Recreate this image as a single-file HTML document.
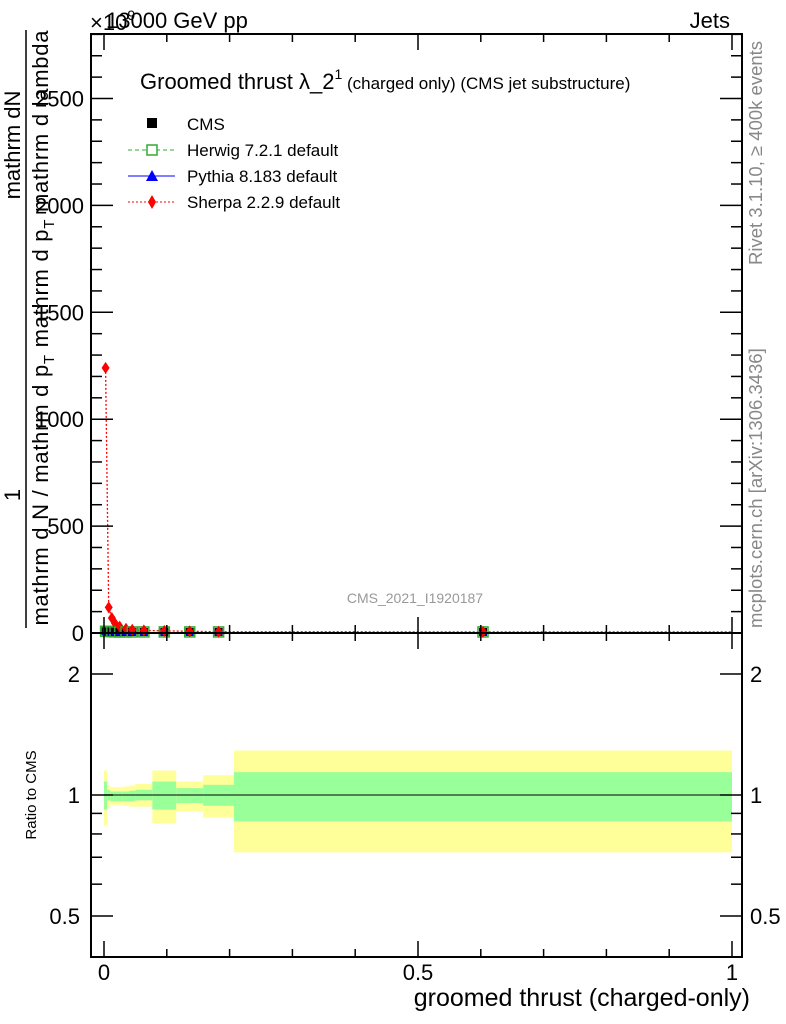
<!DOCTYPE html>
<html><head><meta charset="utf-8"><style>
body{margin:0;background:#fff;}
svg{display:block;font-family:"Liberation Sans",sans-serif;}
</style></head><body>
<svg id="c" width="786" height="1024" xmlns="http://www.w3.org/2000/svg"></svg>
<script>
const edges=[0,0.005,0.01,0.015,0.02,0.03,0.04,0.05,0.077,0.115,0.158,0.207,1];
const cmsVals=[8,6,6,5,5,5,5,5,5,5,5,5];
const herwigVals=[8,7,6,5,5,5,5,5,5,5,5,5];
const pythiaVals=[6,5,5,4,4,4,4,4,4,4,4,4];
const sherpaVals=[1240,120,70,45,30,20,15,12,10,8,6,5];
const statHi=[1.08,1.03,1.02,1.02,1.02,1.02,1.025,1.03,1.08,1.04,1.06,1.14];
const statLo=[0.92,0.97,0.965,0.965,0.965,0.965,0.965,0.97,0.92,0.955,0.94,0.86];
const totHi=[1.15,1.06,1.045,1.045,1.045,1.05,1.055,1.065,1.15,1.08,1.12,1.29];
const totLo=[0.84,0.93,0.945,0.945,0.945,0.94,0.935,0.935,0.85,0.91,0.88,0.72];
const yTicks=[0,500,1000,1500,2000,2500];
const xTicks=[0,0.5,1];
const rTicks=[0.5,1,2];

const NS="http://www.w3.org/2000/svg";
const svg=document.getElementById('c');
function el(t,a,p){const e=document.createElementNS(NS,t);for(const k in a)e.setAttribute(k,a[k]);(p||svg).appendChild(e);return e;}
const L=91,R=742,T=34,M=633,B=957;
const X=v=>104+v*628;
const Y=v=>633-v*0.2138;
const RY=v=>795-Math.log2(v)*121;

const gb=el('g',{});


for(let i=0;i<edges.length-1;i++){
 const x0=X(edges[i]),x1=X(edges[i+1]);
 const ry=el('rect',{x:x0,y:RY(totHi[i]),width:x1-x0,height:RY(totLo[i])-RY(totHi[i]),fill:'#ffff99'},gb);
 
 
 const rg=el('rect',{x:x0,y:RY(statHi[i]),width:x1-x0,height:RY(statLo[i])-RY(statHi[i]),fill:'#99ff99'},gb);
 
 
}
el('line',{x1:L,x2:R,y1:RY(1),y2:RY(1),stroke:'#000','stroke-width':1});

function centers(i){return (edges[i]+edges[i+1])/2;}
let sp='';sherpaVals.forEach((v,i)=>{sp+=(i?'L':'M')+X(centers(i))+','+Y(v);});
sp+='L'+X(1)+','+Y(sherpaVals[sherpaVals.length-1]);
const sl=el('path',{d:sp,fill:'none',stroke:'#f00','stroke-dasharray':'2,2','stroke-width':1.3});


cmsVals.forEach((v,i)=>{
 const cx=X(centers(i));
 const hw=el('rect',{x:cx-5,y:Y(herwigVals[i])-5,width:10,height:10,fill:'none',stroke:'#3a3','stroke-width':1.5});
 
 
 const c=el('rect',{x:cx-4,y:Y(v)-4,width:8,height:8,fill:'#000'});
 
 
 const py=el('path',{d:`M${cx-4},${Y(pythiaVals[i])+3}L${cx+4},${Y(pythiaVals[i])+3}L${cx},${Y(pythiaVals[i])-4}Z`,fill:'#00f'});
 
 
 const sy=Y(sherpaVals[i]);
 const s=el('path',{d:`M${cx},${sy-6}L${cx+4},${sy}L${cx},${sy+6}L${cx-4},${sy}Z`,fill:'#f00'});
 
 
});

for(const [t,b] of [[T,M],[M,B]]){
 const f=el('rect',{x:L,y:t,width:R-L,height:b-t,fill:'none',stroke:'#000','stroke-width':2});
 
 
 for(let v=0;v<=1.0001;v+=0.1){const x=X(v);const maj=Math.abs(v*2-Math.round(v*2))<1e-6;const l=maj?16:8;
  el('line',{x1:x,x2:x,y1:b,y2:b-l,stroke:'#000','stroke-width':1.5});
  el('line',{x1:x,x2:x,y1:t,y2:t+l,stroke:'#000','stroke-width':1.5});}
}
for(let v=0;v<=2800;v+=100){const y=Y(v);if(y<T)break;const l=v%500==0?22:11;
 el('line',{x1:L,x2:L+l,y1:y,y2:y,stroke:'#000','stroke-width':1.5});
 el('line',{x1:R,x2:R-l,y1:y,y2:y,stroke:'#000','stroke-width':1.5});}
yTicks.forEach(v=>{const t=el('text',{x:84,y:Y(v)+8,'text-anchor':'end','font-size':22});t.textContent=v;
 });
[0.5,0.6,0.7,0.8,0.9,1,2].forEach(v=>{const y=RY(v);const l=(v==0.5||v==1||v==2)?22:11;
 el('line',{x1:L,x2:L+l,y1:y,y2:y,stroke:'#000','stroke-width':1.5});
 el('line',{x1:R,x2:R-l,y1:y,y2:y,stroke:'#000','stroke-width':1.5});});
rTicks.forEach(v=>{for(const [x,a] of [[80,'end'],[750,'start']]){const t=el('text',{x:x,y:RY(v)+8,'text-anchor':a,'font-size':22});t.textContent=v;
 }});
xTicks.forEach(v=>{const t=el('text',{x:X(v),y:980,'text-anchor':'middle','font-size':22});t.textContent=v;
 });
</script>
<svg style="position:absolute;left:0;top:0" width="786" height="1024" xmlns="http://www.w3.org/2000/svg" font-family="Liberation Sans, sans-serif">
<text x="90" y="30" font-size="22">×10<tspan font-size="14" dy="-10">9</tspan></text>
<text x="106" y="28" font-size="22">13000 GeV pp</text>
<text x="730" y="28" font-size="22" text-anchor="end">Jets</text>
<text x="140" y="89" font-size="22">Groomed thrust λ_2<tspan font-size="14" dy="-10">1</tspan><tspan font-size="17" dy="10"> (charged only) (CMS jet substructure)</tspan></text>
<g font-size="17">
<rect x="147" y="118" width="10" height="10" fill="#000"/><text x="187" y="130">CMS</text>
<line x1="128" x2="175" y1="150" y2="150" stroke="#3a3" stroke-dasharray="4,3"/><rect x="147" y="145" width="10" height="10" fill="#fff" stroke="#3a3" stroke-width="1.5"/><text x="187" y="156">Herwig 7.2.1 default</text>
<line x1="128" x2="175" y1="176" y2="176" stroke="#00f"/><path d="M146,181L158,181L152,170Z" fill="#00f"/><text x="187" y="182">Pythia 8.183 default</text>
<line x1="128" x2="175" y1="202" y2="202" stroke="#f00" stroke-dasharray="2,2"/><path d="M152,195L156,202L152,209L148,202Z" fill="#f00"/><text x="187" y="208">Sherpa 2.2.9 default</text>
</g>
<text x="415" y="603" font-size="14" fill="#999" text-anchor="middle">CMS_2021_I1920187</text>
<text transform="translate(762,265) rotate(-90)" font-size="18.5" fill="#888">Rivet 3.1.10, ≥ 400k events</text>
<text transform="translate(762,628) rotate(-90)" font-size="18.5" fill="#888">mcplots.cern.ch [arXiv:1306.3436]</text>
<g font-size="22">
<text transform="translate(20,495) rotate(-90)" text-anchor="middle">1</text>
<line x1="26" x2="26" y1="30" y2="628" stroke="#000" stroke-width="1.5"/>
<text transform="translate(20,145) rotate(-90)" text-anchor="middle">mathrm dN</text>
<text transform="translate(48,328) rotate(-90)" text-anchor="middle" textLength="595">mathrm d N / mathrm d p<tspan font-size="15" dy="6">T</tspan><tspan dy="-6"> mathrm d p</tspan><tspan font-size="15" dy="6">T</tspan><tspan dy="-6"> mathrm d lambda</tspan></text>
</g>
<text transform="translate(36,795) rotate(-90)" font-size="15" text-anchor="middle">Ratio to CMS</text>
<text x="750" y="1006" font-size="25" text-anchor="end">groomed thrust (charged-only)</text>
</svg>
</body></html>
